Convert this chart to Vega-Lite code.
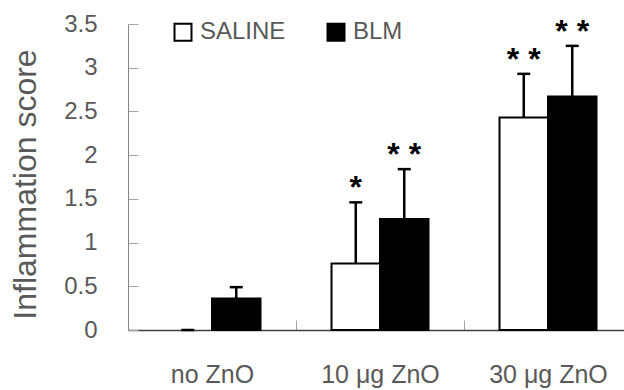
{
  "$schema": "https://vega.github.io/schema/vega-lite/v6.json",
  "width": 496,
  "height": 306,
  "autosize": {"type": "none"},
  "padding": {"left": 128, "top": 24, "right": 0, "bottom": 60},
  "background": "white",
  "config": {"font": "Liberation Sans", "view": {"stroke": null}},
  "data": {
    "values": [
      {"dose": "no ZnO", "group": "SALINE", "mean": 0, "upper": 0, "sig": ""},
      {"dose": "no ZnO", "group": "BLM", "mean": 0.36, "upper": 0.49, "sig": ""},
      {"dose": "10 μg ZnO", "group": "SALINE", "mean": 0.76, "upper": 1.46, "sig": "*"},
      {"dose": "10 μg ZnO", "group": "BLM", "mean": 1.27, "upper": 1.84, "sig": "* *"},
      {"dose": "30 μg ZnO", "group": "SALINE", "mean": 2.43, "upper": 2.93, "sig": "* *"},
      {"dose": "30 μg ZnO", "group": "BLM", "mean": 2.67, "upper": 3.25, "sig": "* *"}
    ]
  },
  "encoding": {
    "x": {
      "field": "dose",
      "type": "nominal",
      "sort": ["no ZnO", "10 μg ZnO", "30 μg ZnO"],
      "scale": {"range": [0, 504], "paddingInner": 0, "paddingOuter": 0},
      "axis": {
        "title": null,
        "labelAngle": 0,
        "labelFontSize": 25,
        "labelColor": "#595959",
        "labelPadding": 42,
        "tickBand": "extent",
        "tickSize": -10,
        "tickColor": "#a6a6a6",
        "domainColor": "#404040",
        "domainWidth": 1.5
      }
    },
    "xOffset": {
      "field": "group",
      "type": "nominal",
      "sort": ["SALINE", "BLM"],
      "scale": {"paddingInner": 0, "paddingOuter": 0.732}
    }
  },
  "layer": [
    {
      "transform": [{"filter": "datum.mean > 0"}],
      "mark": {"type": "bar", "stroke": "black", "strokeWidth": 2},
      "encoding": {
        "y": {
          "field": "mean",
          "type": "quantitative",
          "scale": {"domain": [0, 3.5]},
          "axis": {
            "title": "Inflammation score",
            "titleFontSize": 32,
            "titleFontWeight": "normal",
            "titleColor": "#595959",
            "titleX": -93,
            "titleY": 160,
            "titleBaseline": "alphabetic",
            "titleAngle": -90,
            "titleAlign": "center",
            "values": [0, 0.5, 1, 1.5, 2, 2.5, 3, 3.5],
            "format": "~g",
            "labelFontSize": 24,
            "labelColor": "#595959",
            "labelPadding": 41,
            "tickSize": -10,
            "tickColor": "#a6a6a6",
            "domainColor": "#868686",
            "grid": false
          }
        },
        "fill": {
          "field": "group",
          "type": "nominal",
          "scale": {"domain": ["SALINE", "BLM"], "range": ["white", "black"]},
          "legend": {
            "title": null,
            "orient": "none",
            "direction": "horizontal",
            "legendX": 43,
            "legendY": -4,
            "symbolType": "square",
            "symbolSize": 289,
            "symbolStrokeColor": "black",
            "symbolStrokeWidth": 2,
            "labelFontSize": 24,
            "labelColor": "#595959",
            "labelOffset": 5,
            "columnPadding": 37
          }
        }
      }
    },
    {
      "mark": {"type": "rule", "strokeWidth": 2.5, "color": "black"},
      "encoding": {
        "y": {"field": "mean", "type": "quantitative"},
        "y2": {"field": "upper"}
      }
    },
    {
      "mark": {"type": "tick", "orient": "horizontal", "size": 13, "thickness": 2.5, "color": "black", "opacity": 1},
      "encoding": {
        "y": {"field": "upper", "type": "quantitative"}
      }
    },
    {
      "mark": {"type": "text", "fontSize": 32, "fontWeight": "bold", "dy": -4, "baseline": "alphabetic", "align": "center", "color": "black"},
      "encoding": {
        "y": {"field": "upper", "type": "quantitative"},
        "text": {"field": "sig"}
      }
    }
  ]
}
